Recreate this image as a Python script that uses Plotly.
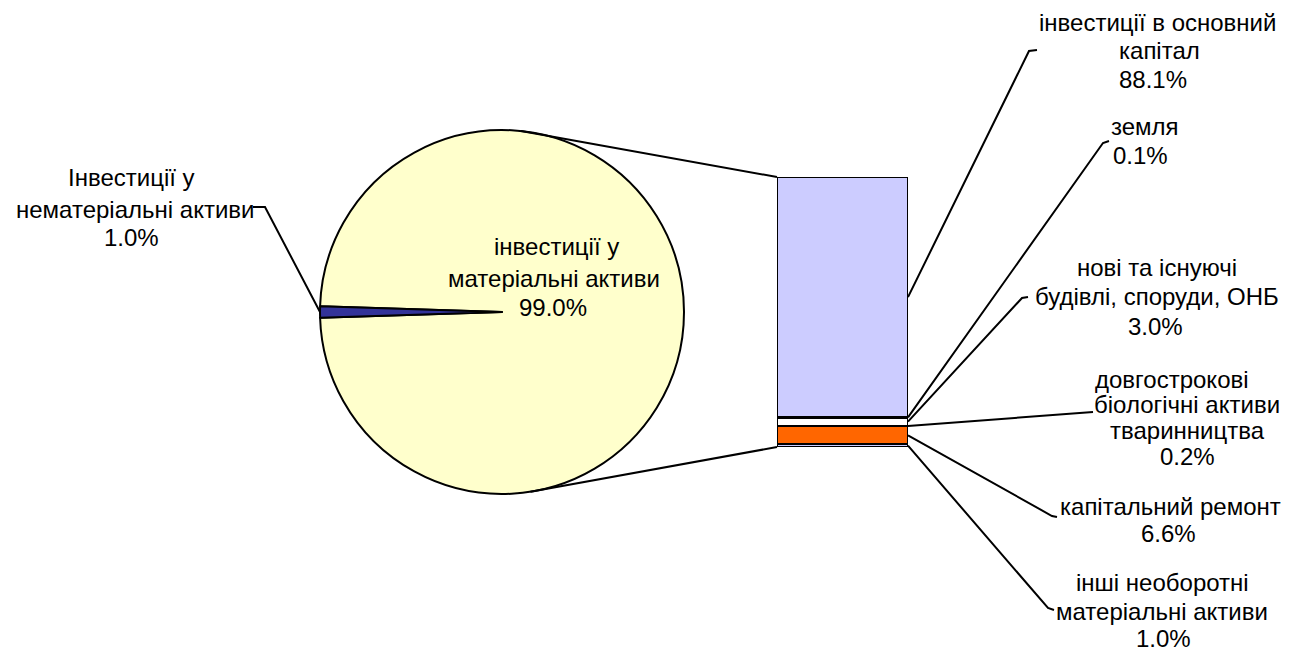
import math
import plotly.graph_objects as go

W, H = 1296, 652
FONT = "Liberation Sans"
FS = 24

# ---- data ----
pie_labels = ["інвестиції у матеріальні активи", "Інвестиції у нематеріальні активи"]
pie_values = [99.0, 1.0]
pie_colors = ["#FFFFCC", "#333399"]

# bar segments, bottom to top
bar_labels = [
    "інші необоротні матеріальні активи",
    "капітальний ремонт",
    "довгострокові біологічні активи тваринництва",
    "нові та існуючі будівлі, споруди, ОНБ",
    "земля",
    "інвестиції в основний капітал",
]
bar_values = [1.0, 6.6, 0.2, 3.0, 0.1, 88.1]
bar_colors = ["#CCCCFF", "#FF6600", "#FFFFCC", "#FFFFFF", "#CCFFFF", "#CCCCFF"]
bar_text_lines = [
    ["інші необоротні", "матеріальні активи", "1.0%"],
    ["капітальний ремонт", "6.6%"],
    ["довгострокові", "біологічні активи", "тваринництва", "0.2%"],
    ["нові та існуючі", "будівлі, споруди, ОНБ", "3.0%"],
    ["земля", "0.1%"],
    ["інвестиції в основний", "капітал", "88.1%"],
]
pie_text_lines = [
    ["інвестиції у", "матеріальні активи", "99.0%"],
    ["Інвестиції у", "нематеріальні активи", "1.0%"],
]

# ---- layout geometry (pixels) ----
CX, CY, R = 502, 312, 182
BAR_L, BAR_R, BAR_T, BAR_B = 777, 908, 177, 447


def px(x):
    return x / W


def py(y):
    return 1 - y / H


fig = go.Figure()

pie_total = sum(pie_values)
fig.add_trace(go.Pie(
    labels=pie_labels, values=pie_values, sort=False, direction="clockwise",
    rotation=270 - pie_values[1] / pie_total * 180 - pie_values[0] / pie_total * 360,
    marker=dict(colors=pie_colors, line=dict(color="black", width=2)),
    textinfo="none", hoverinfo="label+percent", showlegend=False,
    domain=dict(x=[px(CX - R), px(CX + R)], y=[py(CY + R), py(CY - R)]),
))

total = sum(bar_values)
for lab, v, c in zip(bar_labels, bar_values, bar_colors):
    fig.add_trace(go.Bar(
        x=[0], y=[v], width=1, name=lab, marker=dict(color=c, line=dict(color="black", width=2)),
        showlegend=False, hoverinfo="name+y",
    ))

# per-line label positions (center px)
bar_line_pos = [
    [(1162, 582), (1162, 611), (1163, 638)],
    [(1170, 507), (1168, 533)],
    [(1172, 379), (1187, 404), (1187, 430), (1187, 457)],
    [(1157, 267), (1157, 297), (1155, 326)],
    [(1145, 127), (1140, 156)],
    [(1157, 22), (1159, 51), (1153, 80)],
]
pie_line_pos = [
    [(556, 247), (554, 278), (553, 307)],
    [(131, 177), (135, 209), (131, 237)],
]
hooks = [
    [(1054, 610), (1048, 608)],
    [(1057, 517), (1052, 516)],
    [(1093, 412)],
    [(1028, 297), (1022, 298)],
    [(1109, 141), (1103, 143)],
    [(1037, 50), (1029, 51)],
]


def add_lines(ann, lines, pos):
    for t, (lx, ly) in zip(lines, pos):
        ann.append(dict(x=px(lx), y=py(ly), xref="paper", yref="paper", text=t,
                        showarrow=False, xanchor="center", yanchor="middle", align="center",
                        font=dict(family=FONT, size=FS, color="black")))


shapes = []
annotations = []
cum = 0.0
ybar0, ybar1 = py(BAR_B), py(BAR_T)
for i, v in enumerate(bar_values):
    mid = cum + v / 2
    cum += v
    ymid = ybar0 + (mid / total) * (ybar1 - ybar0)
    pts = [(px(x), py(y)) for x, y in hooks[i]] + [(px(BAR_R), ymid)]
    path = "M " + " L ".join(f"{a},{b}" for a, b in pts)
    shapes.append(dict(type="path", xref="paper", yref="paper", path=path,
                       line=dict(color="black", width=2)))
    add_lines(annotations, bar_text_lines[i], bar_line_pos[i])

for lines, pos in zip(pie_text_lines, pie_line_pos):
    add_lines(annotations, lines, pos)

# leader for small slice
a = math.radians(270)
sx = CX + R * math.sin(a)
sy = CY - R * math.cos(a)
pts = [(253, 207), (265, 207), (sx, sy)]
shapes.append(dict(type="path", xref="paper", yref="paper",
                   path="M " + " L ".join(f"{px(p)},{py(q)}" for p, q in pts),
                   line=dict(color="black", width=2)))

# connector lines pie -> bar
for ang, (bx, by) in [(6, (BAR_L, BAR_T)), (171, (BAR_L, BAR_B))]:
    a = math.radians(ang)
    x0 = CX + R * math.sin(a)
    y0 = CY - R * math.cos(a)
    shapes.append(dict(type="line", xref="paper", yref="paper", x0=px(x0), y0=py(y0),
                       x1=px(bx), y1=py(by), line=dict(color="black", width=2)))

fig.update_layout(
    width=W, height=H, margin=dict(l=0, r=0, t=0, b=0),
    paper_bgcolor="white", plot_bgcolor="rgba(0,0,0,0)",
    barmode="stack", bargap=0,
    xaxis=dict(domain=[px(BAR_L), px(BAR_R)], range=[-0.5, 0.5], visible=False, fixedrange=True),
    yaxis=dict(domain=[py(BAR_B), py(BAR_T)], range=[0, total], visible=False, fixedrange=True),
    shapes=shapes, annotations=annotations,
    font=dict(family=FONT, size=FS, color="black"),
)

fig.write_html("out.html", config={"displayModeBar": False},
               post_script="document.body.style.margin='0';document.body.style.overflow='hidden';")
